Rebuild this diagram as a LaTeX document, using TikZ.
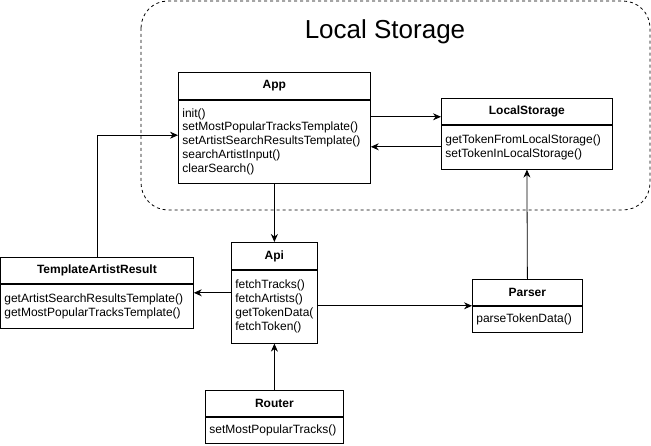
\documentclass[tikz,border=0pt]{standalone}
\usepackage{fontspec}
\setmainfont{Liberation Sans}
\usetikzlibrary{positioning,arrows.meta,calc}

\tikzset{
  classhead/.style={draw, font=\fontsize{12}{14}\selectfont\bfseries, inner sep=0pt, anchor=north west},
  classbody/.style={draw, align=left, inner xsep=4pt, inner ysep=0pt, anchor=north west},
  link/.style={-{Stealth[length=8pt,width=7pt]}},
}

\begin{document}
\begin{tikzpicture}[x=1pt,y=-1pt,line width=0.8pt,font=\fontsize{12}{13.9}\selectfont]
\useasboundingbox (0,0) rectangle (651,446);
% local storage area
\draw[dash pattern=on 3pt off 3pt, rounded corners=27pt] (141,1) rectangle (650,210);
\node[font=\fontsize{26}{30}\selectfont] (title) at (385,32) {Local Storage};

% classes
\node[classhead, minimum width=192pt, minimum height=27pt] (apph) at (178,72) {App};
\node[classbody, text width=184pt, minimum height=83pt] (appb) at (apph.south west)
  {init()\\setMostPopularTracksTemplate()\\setArtistSearchResultsTemplate()\\searchArtistInput()\\clearSearch()};

\node[classhead, minimum width=171pt, minimum height=26pt] (lsh) at (441,98) {LocalStorage};
\node[classbody, text width=163pt, minimum height=44pt] (lsb) at (lsh.south west)
  {getTokenFromLocalStorage()\\setTokenInLocalStorage()};

\node[classhead, minimum width=86pt, minimum height=27pt] (apih) at (231,242) {Api};
\node[classbody, text width=78pt, minimum height=73pt] (apib) at (apih.south west)
  {fetchTracks()\\fetchArtists()\\getTokenData(\\fetchToken()};

\node[classhead, minimum width=193pt, minimum height=26pt] (tarh) at (0,257) {TemplateArtistResult};
\node[classbody, text width=185pt, minimum height=44pt] (tarb) at (tarh.south west)
  {getArtistSearchResultsTemplate()\\getMostPopularTracksTemplate()};

\node[classhead, minimum width=110pt, minimum height=26pt] (parserh) at (472,279) {Parser};
\node[classbody, text width=102pt, minimum height=26pt] (parserb) at (parserh.south west)
  {parseTokenData()};

\node[classhead, minimum width=138pt, minimum height=26pt] (routerh) at (205,390) {Router};
\node[classbody, text width=130pt, minimum height=26pt] (routerb) at (routerh.south west)
  {setMostPopularTracks()};

% connectors
\coordinate (a2l) at ($(appb.north east)+(0,17)$);
\draw[link] (a2l) -- (a2l -| lsh.west);
\coordinate (l2a) at ($(lsb.north west)+(0,22)$);
\draw[link] (l2a) -- (l2a -| appb.east);
\draw[link] (appb.south) -- (apih.north);
\draw[link] (routerh.north) -- (apib.south);
\coordinate (a2t) at ($(apib.north west)+(0,23)$);
\draw[link] (a2t) -- (a2t -| tarb.east);
\draw[link] (parserb.north west -| apib.east) -- (parserb.north west);
\draw[link] (parserh.north) -- (lsb.south);
\draw[link] (tarh.north) |- ($(appb.west)+(0,-6.5)$);
\end{tikzpicture}
\end{document}
